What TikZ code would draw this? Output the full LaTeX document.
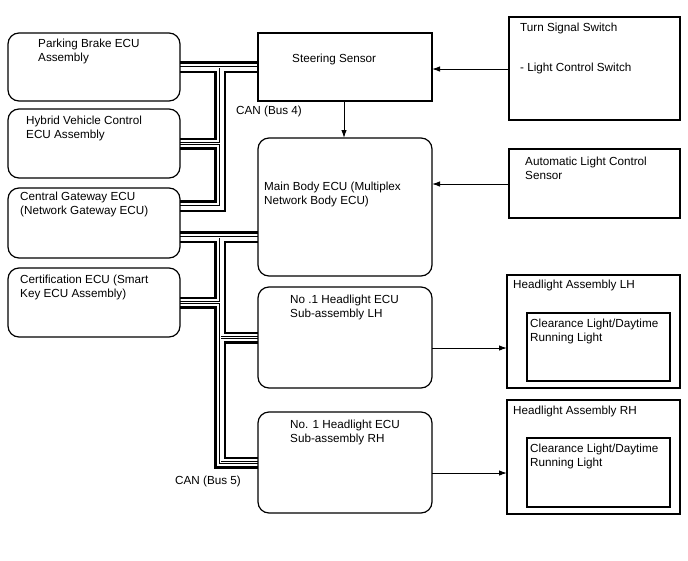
\documentclass[tikz,border=0pt]{standalone}
\usepackage{fontspec}
\setmainfont{Liberation Sans}
\usetikzlibrary{arrows.meta,backgrounds}
\newcommand\mlines[1]{\begin{tabular}[t]{@{}l@{}}#1\end{tabular}}
\newcommand\drawbus[1]{%
  \draw[#1] (pb.east) -- (b4a) -- (b4b) -- (b4b -| cg.east);
  \draw[#1] (b4a) -- (b4a -| ss.west);
  \draw[#1] (hv.east) -- (hv.east -| b4a);
  \draw[#1] (b5a -| cg.east) -- (b5a -| mb.west);
  \draw[#1] (b5a) -- (b5a |- rh.west) -- (rh.west);
  \draw[#1] (ce.east) -- (ce.east -| b5a);
  \draw[#1] (b5a |- lh.west) -- (lh.west);
}
\begin{document}
\begin{tikzpicture}[x=1pt,y=-1pt,
  rbox/.style={draw,line width=1.2pt,rounded corners=11pt,inner sep=0pt,outer sep=0pt,anchor=north west},
  sbox/.style={draw,line width=1.1pt,inner sep=0pt,outer sep=0pt,anchor=north west},
  txt/.style={anchor=base west,inner sep=0pt,font=\fontsize{11.7}{14.5}\selectfont},
  arr/.style={line width=1pt,-{Latex[length=8pt,width=5.5pt]}},
  busline/.style={line cap=butt,line join=miter}]
\useasboundingbox (0,0) rectangle (688,560);
% left column
\node[rbox,minimum width=172,minimum height=68] (pb) at (8,33) {};
\node[rbox,minimum width=172,minimum height=69] (hv) at (8,109) {};
\node[rbox,minimum width=172,minimum height=70] (cg) at (8,188) {};
\node[rbox,minimum width=172,minimum height=69] (ce) at (8,268) {};
% middle column
\node[sbox,minimum width=174,minimum height=68] (ss) at (258,33) {};
\node[rbox,minimum width=174,minimum height=138] (mb) at (258,138) {};
\node[rbox,minimum width=174,minimum height=101] (lh) at (258,287) {};
\node[rbox,minimum width=174,minimum height=101] (rh) at (258,412) {};
% right column
\node[sbox,minimum width=171,minimum height=103] (ts) at (509,17) {};
\node[sbox,minimum width=171,minimum height=69] (al) at (509,149) {};
\node[sbox,minimum width=173,minimum height=113] (hla) at (507,275) {};
\node[sbox,minimum width=143,minimum height=68] (hli) at (527,313) {};
\node[sbox,minimum width=173,minimum height=114] (hra) at (507,400) {};
\node[sbox,minimum width=143,minimum height=69] (hri) at (527,438) {};
% texts
\node[txt] (tpb) at (38,47) {\mlines{Parking Brake ECU\\Assembly}};
\node[txt] (thv) at (26,124) {\mlines{Hybrid Vehicle Control\\ECU Assembly}};
\node[txt] (tcg) at (20,200) {\mlines{Central Gateway ECU\\(Network Gateway ECU)}};
\node[txt] (tce) at (20,283) {\mlines{Certification ECU (Smart\\Key ECU Assembly)}};
\node[txt] (tss) at (292,62) {Steering Sensor};
\node[txt] (tmb) at (264,190) {\mlines{Main Body ECU (Multiplex\\Network Body ECU)}};
\node[txt] (tlh) at (290,303) {\mlines{No .1 Headlight ECU\\Sub-assembly LH}};
\node[txt] (trh) at (290,428) {\mlines{No. 1 Headlight ECU\\Sub-assembly RH}};
\node[txt] (tts) at (520,31) {\mlines{Turn Signal Switch\\[26pt]- Light Control Switch}};
\node[txt] (tal) at (525,165) {\mlines{Automatic Light Control\\Sensor}};
\node[txt] (thla) at (513,288) {Headlight Assembly LH};
\node[txt] (thli) at (530,327) {\mlines{Clearance Light/Daytime\\Running Light}};
\node[txt] (thra) at (513,414) {Headlight Assembly RH};
\node[txt] (thri) at (530,452) {\mlines{Clearance Light/Daytime\\Running Light}};
\node[txt] (can4) at (236,114) {CAN (Bus 4)};
\node[txt] (can5) at (175,484) {CAN (Bus 5)};
% bus junction coordinates
\coordinate (b4a) at (220,67);
\coordinate (b4b) at (220,206);
\coordinate (b5a) at (220,237);
\begin{pgfonlayer}{background}
  \drawbus{busline,line width=12pt,black}
  \drawbus{busline,line width=7pt,white}
  \drawbus{busline,line width=2.6pt,black}
  \drawbus{busline,line width=0.8pt,white}
\end{pgfonlayer}
% arrows
\draw[arr] (ts.west |- 0,69) -- (ss.east |- 0,69);
\draw[arr] (ss.south -| 344,0) -- (mb.north -| 344,0);
\draw[arr] (al.west |- 0,184) -- (mb.east |- 0,184);
\draw[arr] (lh.east |- 0,348) -- (hla.west |- 0,348);
\draw[arr] (rh.east |- 0,473) -- (hra.west |- 0,473);
\end{tikzpicture}
\end{document}
